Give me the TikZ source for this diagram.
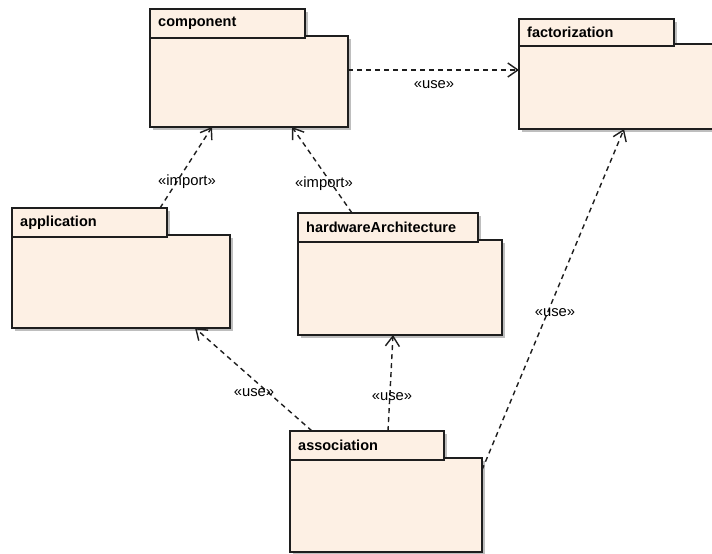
\documentclass[tikz,border=0pt]{standalone}
\usepackage{fontspec}
\setmainfont{Liberation Sans}
\usetikzlibrary{arrows.meta,calc}
\definecolor{pkgfill}{RGB}{253,240,228}
\definecolor{pkgline}{RGB}{30,30,30}
\definecolor{shadowc}{RGB}{190,190,190}
\tikzset{
  pkgshadow/.style={fill=shadowc},
  pkgbox/.style={draw=pkgline, fill=pkgfill, line width=1.5pt, inner sep=0pt, outer sep=0pt, rectangle},
  pkgname/.style={font=\fontsize{14.5}{16}\selectfont\bfseries, text=black, inner sep=0pt},
  dep/.style={draw=pkgline, line width=1.4pt, dash pattern=on 5pt off 4pt, -{Straight Barb[length=10pt,width=14pt,line width=1.4pt]}},
  deplabel/.style={font=\fontsize{14.8}{16}\selectfont, text=black, inner sep=1pt}
}
% #1 name, #2 text, #3 x, #4 tab top, #5 tab right, #6 tab bottom, #7 body right, #8 body bottom
\newcommand\umlpkg[8]{%
  \fill[pkgshadow] (#3+3,#4+3) rectangle (#5+3,#6+3);
  \fill[pkgshadow] (#3+3,#6+1) rectangle (#7+3,#8+3);
  \node[pkgbox, anchor=north west, minimum width={#7-#3}, minimum height={#8-#6+2}] (#1) at (#3,#6-2) {};
  \node[pkgbox, anchor=north west, minimum width={#5-#3}, minimum height={#6-#4}] (#1tab) at (#3,#4) {};
  \node[pkgname, anchor=west] (#1name) at ($(#1tab.west)+(8,0)$) {#2};
}
\begin{document}
\begin{tikzpicture}[x=1pt,y=-1pt]
\useasboundingbox (0,0) rectangle (712,554);
\fill[white] (0,0) rectangle (712,554);

\umlpkg{comp}{component}{150}{9}{305}{38}{348}{127}
\umlpkg{fact}{factorization}{519}{19}{674}{46}{716}{129}
\umlpkg{app}{application}{12}{208}{167}{237}{230}{328}
\umlpkg{hw}{hardwareArchitecture}{298}{213}{478}{242}{502}{335}
\umlpkg{assoc}{association}{290}{431}{444}{460}{482}{552}

\draw[dep] ($(comp.north east)+(0,34)$) -- ($(fact.north west)+(0,26)$);
\draw[dep] ($(apptab.north west)+(148,0)$) -- ($(comp.south west)+(62,0)$);
\draw[dep] ($(hwtab.north west)+(54,0)$) -- ($(comp.south west)+(142,0)$);
\draw[dep] ($(assoctab.north west)+(22,0)$) -- ($(app.south west)+(183,0)$);
\draw[dep] ($(assoctab.north west)+(98,0)$) -- ($(hw.south west)+(95,0)$);
\draw[dep] ($(assoc.north east)+(0,12)$) -- ($(fact.south west)+(105,0)$);

\node[deplabel] (l1) at (434,85) {«use»};
\node[deplabel] (l2) at (187,182) {«import»};
\node[deplabel] (l3) at (324,184) {«import»};
\node[deplabel] (l4) at (254,393) {«use»};
\node[deplabel] (l5) at (392,397) {«use»};
\node[deplabel] (l6) at (555,313) {«use»};
\end{tikzpicture}
\end{document}
